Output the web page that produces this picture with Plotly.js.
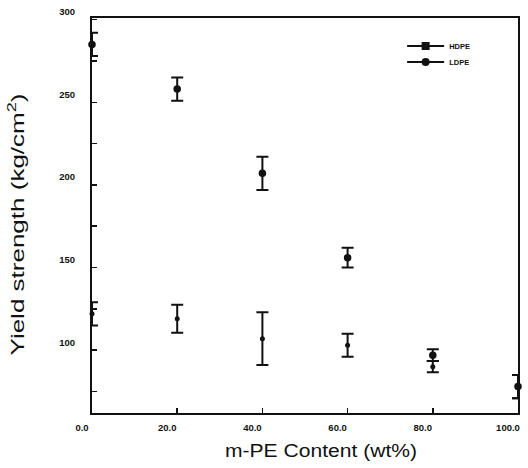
<!DOCTYPE html>
<html>
<head>
<meta charset="utf-8">
<script src="https://cdn.plot.ly/plotly-3.0.1.min.js"></script>
<style>
  html, body { margin: 0; padding: 0; background: #fff; }
  #chart { width: 528px; height: 468px; }
</style>
</head>
<body>
<div id="chart"></div>
<script>
// m-PE content (wt%) of each blend
const content = [0, 20, 40, 60, 80, 100];

// Yield strength (kg/cm^2) and its spread, HDPE blends
const hdpeYield = [285, 258, 207, 156, 97, 78];
const hdpeErr   = [7, 7, 10, 6, 3.6, 7];

// Yield strength (kg/cm^2) and its spread, LDPE blends
const ldpeYield = [122, 119, 107, 103, 90, 78];
const ldpeErr   = [7, 8.5, 16, 7, 3.4, 7];

const yTicks = [100, 150, 200, 250, 300];
const xTicks = [0, 20, 40, 60, 80, 100];

const ink = '#111';
const sans = 'Liberation Sans, Arial, sans-serif';

function errBars(arr) {
  return { type: 'data', array: arr, visible: true, color: ink, thickness: 2, width: 6 };
}

const traces = [
  {
    name: 'HDPE', x: content, y: hdpeYield, mode: 'markers', showlegend: false,
    marker: { symbol: 'circle', size: 7.5, color: ink },
    error_y: errBars(hdpeErr), cliponaxis: false
  },
  {
    name: 'LDPE', x: content, y: ldpeYield, mode: 'markers', showlegend: false,
    marker: { symbol: 'circle', size: 5, color: ink },
    error_y: errBars(ldpeErr), cliponaxis: false
  },
  // legend keys, one per legend box
  {
    name: 'HDPE', x: [null], y: [null], mode: 'lines+markers', legend: 'legend',
    line: { color: ink, width: 2 }, marker: { symbol: 'square', size: 8, color: ink }
  },
  {
    name: 'LDPE', x: [null], y: [null], mode: 'lines+markers', legend: 'legend2',
    line: { color: ink, width: 2 }, marker: { symbol: 'circle', size: 8, color: ink }
  }
];

const tickFont = { family: sans, size: 9.5, color: ink, weight: 'bold' };
const titleFont = { family: sans, size: 18, color: ink };
const legendFont = { family: sans, size: 7.5, color: ink, weight: 'bold' };

function legendAt(yPaper) {
  return {
    x: 0.728, y: yPaper, xanchor: 'left', yanchor: 'middle',
    font: legendFont, bgcolor: 'rgba(0,0,0,0)', itemwidth: 37
  };
}

const layout = {
  width: 528, height: 468,
  margin: { l: 92, r: 10, t: 18, b: 55 },
  paper_bgcolor: '#fff', plot_bgcolor: '#fff',
  showlegend: true,
  legend: legendAt((413 - 46) / 395),
  legend2: legendAt((413 - 62) / 395),
  xaxis: {
    range: [0, 100], showgrid: false, zeroline: false,
    showline: true, linecolor: ink, linewidth: 2, mirror: true,
    tickmode: 'array', tickvals: xTicks, tickformat: '.1f',
    ticks: 'inside', ticklen: 5, tickwidth: 1.5, tickcolor: ink,
    ticklabelstandoff: 5, ticklabelshift: -10,
    tickfont: tickFont,
    title: { text: 'm-PE Content (wt%)', font: titleFont, standoff: 12 }
  },
  yaxis: {
    range: [62, 301], showgrid: false, zeroline: false,
    showline: true, linecolor: ink, linewidth: 2, mirror: true,
    tickmode: 'array', tickvals: yTicks,
    ticks: 'inside', ticklen: 5, tickwidth: 1.5, tickcolor: ink,
    minor: { dtick: 25, ticks: 'inside', ticklen: 5, tickwidth: 1.5, tickcolor: ink, showgrid: false },
    ticklabelstandoff: 13, ticklabelshift: -8,
    tickfont: tickFont,
    title: { text: 'Yield strength (kg/cm<sup>2</sup>)', font: titleFont, standoff: 30 }
  }
};

Plotly.newPlot('chart', traces, layout, { displayModeBar: false, staticPlot: true }).then(function (gd) {
  // the axis titles are set in a wide face: stretch them along their baseline
  const xt = gd.querySelector('.g-xtitle text');
  if (xt) {
    xt.setAttribute('textLength', 192);
    xt.setAttribute('lengthAdjust', 'spacingAndGlyphs');
    xt.setAttribute('transform', 'translate(16,0) ' + (xt.getAttribute('transform') || ''));
  }
  const yt = gd.querySelector('.g-ytitle text');
  if (yt) {
    yt.setAttribute('textLength', 262);
    yt.setAttribute('lengthAdjust', 'spacingAndGlyphs');
    yt.setAttribute('transform', 'translate(0,9) ' + (yt.getAttribute('transform') || ''));
  }
});
</script>
</body>
</html>
